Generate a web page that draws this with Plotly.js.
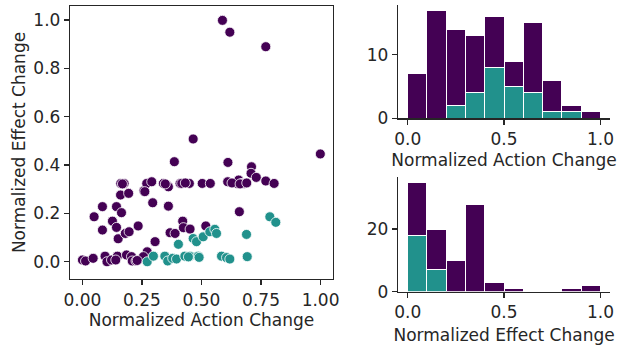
<!DOCTYPE html>
<html><head><meta charset="utf-8">
<script src="https://cdn.plot.ly/plotly-3.0.1.min.js"></script>
<style>body{margin:0;background:#fff}#c{width:620px;height:345px}</style>
</head><body><div id="c"></div><script>
// Group A (purple) points: normalized action change / normalized effect change
const purpleAction = [0.000,0.013,0.045,0.049,0.084,0.084,0.095,0.103,0.122,0.126,0.143,0.143,0.150,0.147,0.140,0.164,0.161,0.175,0.160,0.180,0.196,0.194,0.185,0.206,0.209,0.225,0.234,0.258,0.270,0.291,0.295,0.305,0.272,0.256,0.340,0.354,0.361,0.361,0.368,0.389,0.386,0.410,0.417,0.449,0.421,0.424,0.452,0.503,0.537,0.518,0.611,0.610,0.649,0.656,0.670,0.680,0.659,0.710,0.708,0.730,0.770,0.805,0.999,0.588,0.619,0.770,0.465,0.168,0.348,0.432,0.628,0.662,0.690,0.230,0.262];
const purpleEffect = [0.007,0.003,0.014,0.186,0.228,0.131,0.023,0.000,0.007,0.168,0.228,0.142,0.095,0.023,0.007,0.203,0.324,0.324,0.276,0.117,0.124,0.283,0.028,0.021,0.003,0.003,0.148,0.294,0.324,0.331,0.244,0.083,0.041,0.021,0.324,0.317,0.310,0.230,0.120,0.117,0.414,0.324,0.324,0.324,0.168,0.141,0.135,0.324,0.324,0.148,0.411,0.331,0.324,0.338,0.324,0.324,0.207,0.393,0.366,0.349,0.334,0.324,0.446,0.999,0.950,0.890,0.508,0.322,0.322,0.326,0.326,0.322,0.326,0.005,0.290];
// Group B (teal) points
const tealAction = [0.272,0.298,0.346,0.358,0.379,0.395,0.403,0.430,0.451,0.465,0.479,0.486,0.490,0.507,0.535,0.556,0.563,0.584,0.605,0.619,0.689,0.692,0.787,0.812,0.445];
const tealEffect = [0.000,0.023,0.023,0.003,0.014,0.011,0.072,0.023,0.023,0.096,0.083,0.023,0.018,0.103,0.124,0.134,0.117,0.023,0.017,0.011,0.113,0.021,0.186,0.163,0.020];

const scatterXTicks = [0,0.25,0.5,0.75,1];
const scatterXTickText = ['0.00','0.25','0.50','0.75','1.00'];
const scatterYTicks = [0,0.2,0.4,0.6,0.8,1.0];
const scatterYTickText = ['0.0','0.2','0.4','0.6','0.8','1.0'];
const histXTicks = [0,0.5,1];
const histXTickText = ['0.0','0.5','1.0'];

const PURPLE = '#440154', TEAL = '#21918c', INK = '#262626';
const FONT = {family:'DejaVu Sans, sans-serif', size:17, color:INK};
const bins = {start:0, end:1, size:0.1};

const traces = [
  {type:'scatter', mode:'markers', x:purpleAction, y:purpleEffect, xaxis:'x', yaxis:'y',
   marker:{color:PURPLE, size:10, line:{color:'white', width:0.8}}, hoverinfo:'skip'},
  {type:'scatter', mode:'markers', x:tealAction, y:tealEffect, xaxis:'x', yaxis:'y',
   marker:{color:TEAL, size:10, line:{color:'white', width:0.8}}, hoverinfo:'skip'},
  {type:'histogram', x:tealAction, xbins:bins, autobinx:false, xaxis:'x2', yaxis:'y2',
   marker:{color:TEAL, line:{color:'white', width:1}}},
  {type:'histogram', x:purpleAction, xbins:bins, autobinx:false, xaxis:'x2', yaxis:'y2',
   marker:{color:PURPLE, line:{color:'white', width:1}}},
  {type:'histogram', x:tealEffect, xbins:bins, autobinx:false, xaxis:'x3', yaxis:'y3',
   marker:{color:TEAL, line:{color:'white', width:1}}},
  {type:'histogram', x:purpleEffect, xbins:bins, autobinx:false, xaxis:'x3', yaxis:'y3',
   marker:{color:PURPLE, line:{color:'white', width:1}}}
];

const axBase = {showgrid:false, zeroline:false, showline:true, linecolor:INK, linewidth:1.3,
  ticks:'outside', ticklen:5, tickwidth:1.3, tickcolor:INK, tickfont:FONT, automargin:false};

const layout = {
  width:620, height:345, margin:{l:0,r:0,t:0,b:0},
  paper_bgcolor:'white', plot_bgcolor:'white', showlegend:false,
  barmode:'stack', bargap:0, font:FONT,
  xaxis:Object.assign({}, axBase, {domain:[0.113,0.537], range:[-0.052,1.052], mirror:true,
    tickvals:scatterXTicks, ticktext:scatterXTickText, anchor:'y',
    title:{text:'Normalized Action Change', font:FONT, standoff:4}}),
  yaxis:Object.assign({}, axBase, {domain:[0.191,0.983], range:[-0.072,1.059], mirror:true,
    tickvals:scatterYTicks, ticktext:scatterYTickText, anchor:'x',
    title:{text:'Normalized Effect Change', font:FONT, standoff:3}}),
  xaxis2:Object.assign({}, axBase, {domain:[0.642,0.984], range:[-0.05,1.05], anchor:'y2',
    tickvals:histXTicks, ticktext:histXTickText,
    title:{text:'Normalized Action Change', font:FONT, standoff:6}}),
  yaxis2:Object.assign({}, axBase, {domain:[0.657,0.986], range:[0,17.85], anchor:'x2',
    tickvals:[0,10]}),
  xaxis3:Object.assign({}, axBase, {domain:[0.642,0.984], range:[-0.05,1.05], anchor:'y3',
    tickvals:histXTicks, ticktext:histXTickText,
    title:{text:'Normalized Effect Change', font:FONT, standoff:8}}),
  yaxis3:Object.assign({}, axBase, {domain:[0.1545,0.488], range:[0,36.75], anchor:'x3',
    tickvals:[0,20]})
};

Plotly.newPlot('c', traces, layout, {staticPlot:true});
</script></body></html>
